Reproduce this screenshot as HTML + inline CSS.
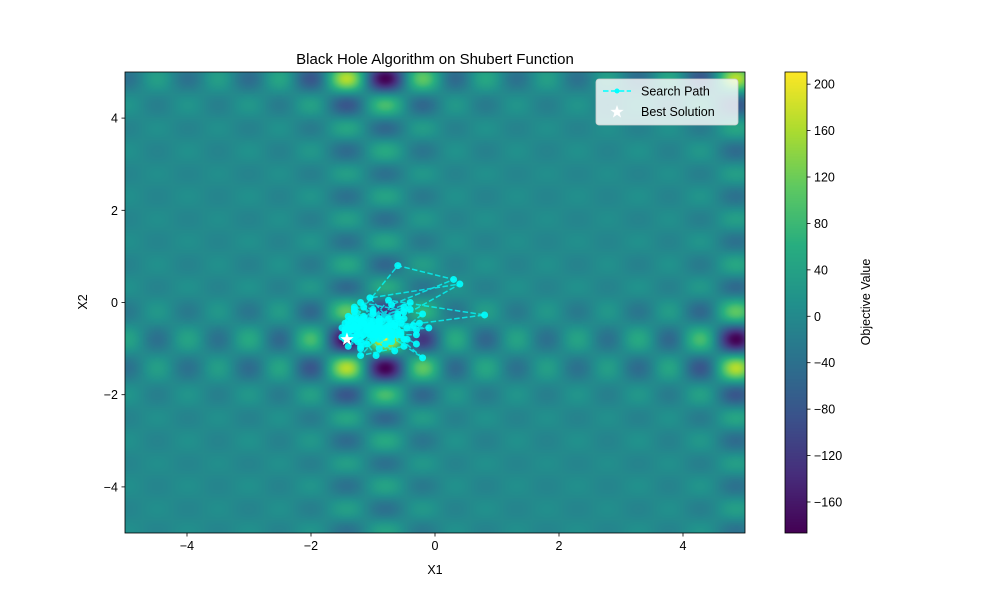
<!DOCTYPE html>
<html><head><meta charset="utf-8"><style>
body{margin:0;background:#fff;}
#wrap{position:relative;width:1000px;height:600px;font-family:"Liberation Sans",sans-serif;}
canvas{position:absolute;}
svg{position:absolute;left:0;top:0;}
text{font-family:"Liberation Sans",sans-serif;fill:#000;}
</style></head><body>
<div id="wrap">
<canvas id="heat" width="620" height="461" style="left:125px;top:72px"></canvas>
<canvas id="cbar" width="22" height="461" style="left:785px;top:72px"></canvas>
<svg id="svg" width="1000" height="600"></svg>
</div>
<script>
const pathX=[-0.9,-1.3,-0.5,-1.45,-0.6,0.3,-0.7,-1.2,-0.35,-1.0,-1.5,-0.4,-0.8,-1.3,-0.55,-0.6,-1.4,-0.75,0.8,-1.1,-0.45,-1.35,-0.9,-0.2,-1.2,-0.65,-1.5,-0.5,-1.0,-0.3,-1.3,-0.85,-0.1,-1.45,-0.65,-1.15,-0.2,-0.7,-1.25,-0.4,-1.4,-0.95,-0.55,-1.05,0.4,-1.25,-0.6,-0.3,-1.45,-0.85,-1.2,-0.5,-1.3,-0.7,-1.0,-0.25,-1.35,-0.6,-1.1,-0.45,-1.4,-0.8,-1.2,-0.65,-0.5,-1.0,-1.45,-0.55,-1.3,-0.85,-1.15,-1.2,-0.6,-0.75,-1.4,-1.05,-0.7,-1.25,-0.9,-1.35,-0.65,-1.0,-1.2,-0.6,-1.3,-0.8,-1.45,-1.05,-0.7,-1.25,-0.9,-1.35,-0.95,-1.15,-0.75,-1.3,-0.85,-1.4,-1.05,-1.2,-0.9,-1.15,-1.0,-1.3,-0.8,-1.1,-1.25,-0.95,-1.15,-1.35,-0.9,-1.45,-0.3,-1.0,-0.5,-1.2,-0.7,-1.1,-0.95,-1.3,-0.8,-1.05,-1.2,-0.9,-1.4,-1.0,-0.75,-1.15,-1.25,-0.85,-1.05,-1.35,-0.95,-1.1,-0.7,-1.2,-1.0,-1.3,-0.9,-1.42];
const pathY=[-0.5,-0.8,-0.2,-0.6,0.8,0.5,-0.05,-1.0,-0.5,-0.25,-0.55,0.0,-0.9,-0.15,-0.7,-0.35,-0.95,0.05,-0.27,-0.6,-0.8,-0.35,-1.0,-0.25,0.0,-0.5,-0.75,-0.1,-0.4,-0.9,-0.2,-0.65,-0.55,-0.45,-1.05,-0.1,-1.2,-0.75,-0.55,-0.15,-0.4,-1.15,-0.65,0.1,0.4,-0.85,-0.3,-0.7,-0.7,-0.4,-0.95,-0.35,-0.1,-0.85,-0.5,-0.45,-0.6,-0.25,-0.9,-0.55,-0.3,-0.7,-0.4,-0.5,-0.8,-0.15,-0.8,-0.45,-0.5,-0.75,-0.3,-0.85,-0.6,-0.35,-0.65,-0.7,-0.65,-0.35,-0.55,-0.75,-0.45,-0.8,-0.5,-0.7,-0.3,-0.55,-0.6,-0.4,-0.75,-0.65,-0.45,-0.55,-0.6,-0.35,-0.55,-0.75,-0.65,-0.5,-0.55,-0.6,-0.4,-0.7,-0.55,-0.5,-0.6,-0.6,-0.55,-0.7,-0.45,-0.6,-0.5,-0.65,-0.6,-0.2,-0.95,-1.15,-0.45,-0.55,-0.7,-0.4,-0.6,-0.5,-0.75,-0.35,-0.55,-0.65,-0.5,-0.45,-0.7,-0.6,-0.5,-0.4,-0.65,-0.55,-0.6,-0.45,-0.7,-0.5,-0.8];
const xTicks=[-4,-2,0,2,4];
const yTicks=[-4,-2,0,2,4];
const cTicks=[-160,-120,-80,-40,0,40,80,120,160,200];
const best=[-1.42,-0.8];
const vmin=-186.73,vmax=210.48;
const X0=125,X1=745,Y0=72,Y1=533;
const sx=v=>X0+(v+5)/10*(X1-X0);
const sy=v=>Y1-(v+5)/10*(Y1-Y0);
const cy=v=>Y1-(v-vmin)/(vmax-vmin)*(Y1-Y0);
const vir=[[68,1,84],[71,45,123],[59,82,139],[44,114,142],[33,145,140],[40,174,128],[94,201,98],[173,220,48],[253,231,37]];
function cmap(t){t=Math.max(0,Math.min(1,t));const p=t*8,i=Math.min(7,Math.floor(p)),f=p-i;return vir[i].map((c,k)=>c+(vir[i+1][k]-c)*f);}
function g(x){let s=0;for(let i=1;i<=5;i++)s+=i*Math.cos((i+1)*x+i);return s;}
(function(){const c=document.getElementById('heat'),ctx=c.getContext('2d'),W=c.width,H=c.height,im=ctx.createImageData(W,H);
const gx=[],gy=[];for(let i=0;i<W;i++)gx.push(g(-5+(i+0.5)/W*10));for(let j=0;j<H;j++)gy.push(g(5-(j+0.5)/H*10));
for(let j=0;j<H;j++)for(let i=0;i<W;i++){const col=cmap((gx[i]*gy[j]-vmin)/(vmax-vmin)),o=(j*W+i)*4;im.data[o]=col[0];im.data[o+1]=col[1];im.data[o+2]=col[2];im.data[o+3]=255;}
ctx.putImageData(im,0,0);
const cb=document.getElementById('cbar'),c2=cb.getContext('2d');for(let j=0;j<cb.height;j++){const col=cmap(1-j/cb.height);c2.fillStyle=`rgb(${col[0]|0},${col[1]|0},${col[2]|0})`;c2.fillRect(0,j,22,1);}})();
const svg=document.getElementById('svg'),NS='http://www.w3.org/2000/svg';
function el(t,a,txt){const e=document.createElementNS(NS,t);for(const k in a)e.setAttribute(k,a[k]);if(txt!==undefined)e.textContent=txt;svg.appendChild(e);return e;}
const N=Math.min(pathX.length,pathY.length);
let d='';for(let i=0;i<N;i++){d+=(i?'L':'M')+sx(pathX[i])+','+sy(pathY[i]);}
const pl=el('path',{d:d,fill:'none',stroke:'#00ffff','stroke-width':1.5,'stroke-dasharray':'5.5,2.4','stroke-opacity':0.75});


for(let i=0;i<N;i++){const m=el('circle',{cx:sx(pathX[i]),cy:sy(pathY[i]),r:3.5,fill:'#00ffff','fill-opacity':0.9});

}
function star(cx,cyy,r){let p='';for(let k=0;k<10;k++){const a=-Math.PI/2+k*Math.PI/5,rr=k%2?r*0.4:r;p+=(k?'L':'M')+(cx+rr*Math.cos(a))+','+(cyy+rr*Math.sin(a));}return p+'Z';}
const bs=el('path',{d:star(sx(best[0]),sy(best[1]),7),fill:'#fff'});


el('rect',{x:X0,y:Y0,width:X1-X0,height:Y1-Y0,fill:'none',stroke:'#000','stroke-width':0.8,});
el('rect',{x:785,y:72,width:22,height:461,fill:'none',stroke:'#000','stroke-width':0.8,});
xTicks.forEach(v=>{const x=sx(v);el('line',{x1:x,x2:x,y1:Y1,y2:Y1+3.5,stroke:'#000','stroke-width':0.8});
const t=el('text',{x:x,y:Y1+17,'font-size':12.5,'text-anchor':'middle'},(v<0?'\u2212':'')+Math.abs(v));

});
yTicks.forEach(v=>{const y=sy(v);el('line',{x1:X0,x2:X0-3.5,y1:y,y2:y,stroke:'#000','stroke-width':0.8});
const t=el('text',{x:X0-7,y:y+4.5,'font-size':12.5,'text-anchor':'end'},(v<0?'\u2212':'')+Math.abs(v));

});
cTicks.forEach(v=>{const y=cy(v);el('line',{x1:807,x2:810.5,y1:y,y2:y,stroke:'#000','stroke-width':0.8});
const t=el('text',{x:814,y:y+4.5,'font-size':12.5},(v<0?'\u2212':'')+Math.abs(v));

});
el('text',{x:435,y:64,'font-size':15,'text-anchor':'middle',},'Black Hole Algorithm on Shubert Function');
el('text',{x:435,y:574,'font-size':12.5,'text-anchor':'middle',},'X1');
el('text',{x:0,y:0,'font-size':12.5,'text-anchor':'middle',transform:'translate(87,302) rotate(-90)',},'X2');
el('text',{x:0,y:0,'font-size':12.5,'text-anchor':'middle',transform:'translate(870,302) rotate(-90)',},'Objective Value');
el('rect',{x:596,y:79,width:142,height:46,rx:3,fill:'rgba(255,255,255,0.8)',stroke:'#ccc','stroke-width':0.8,});
el('line',{x1:603,x2:631,y1:91,y2:91,stroke:'#00ffff','stroke-width':1.5,'stroke-dasharray':'5.5,2.4'});
el('circle',{cx:617,cy:91,r:2.5,fill:'#00ffff'});
el('text',{x:641,y:95.5,'font-size':12.5,},'Search Path');
el('path',{d:star(617,112,7),fill:'#fff'});
el('text',{x:641,y:116,'font-size':12.5,},'Best Solution');
</script>
</body></html>
